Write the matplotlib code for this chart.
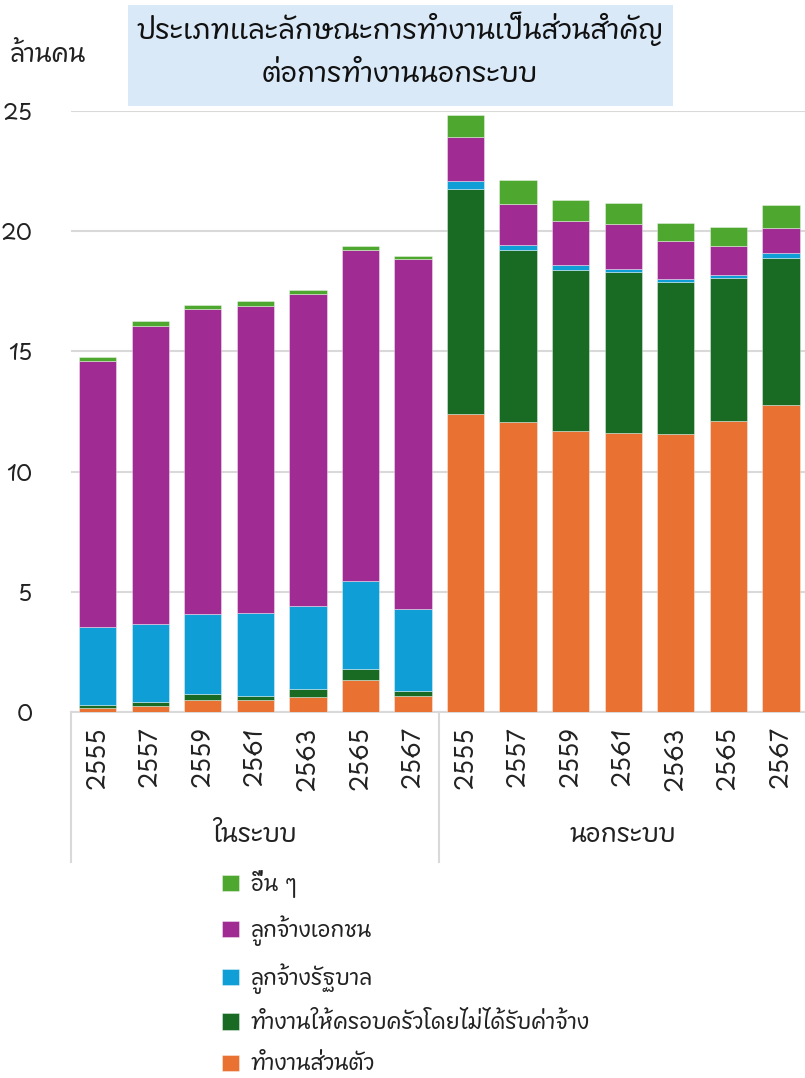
import numpy as np
import matplotlib
matplotlib.use('Agg')
import matplotlib.pyplot as plt
from matplotlib import font_manager as fm
from matplotlib.ft2font import FT2Font
from matplotlib.patches import Rectangle
import matplotlib.transforms as mtransforms

years = ['2555', '2557', '2559', '2561', '2563', '2565', '2567']
groups = ['ในระบบ', 'นอกระบบ']

# formal (ในระบบ), million persons
formal_own = [0.20, 0.28, 0.50, 0.50, 0.65, 1.33, 0.69]
formal_family = [0.12, 0.16, 0.25, 0.19, 0.32, 0.46, 0.19]
formal_gov = [3.22, 3.22, 3.34, 3.44, 3.44, 3.67, 3.40]
formal_private = [11.08, 12.41, 12.66, 12.77, 12.96, 13.76, 14.56]
formal_other = [0.16, 0.20, 0.18, 0.19, 0.18, 0.16, 0.11]

# informal (นอกระบบ)
informal_own = [12.40, 12.05, 11.68, 11.61, 11.57, 12.11, 12.77]
informal_family = [9.36, 7.16, 6.71, 6.70, 6.32, 5.94, 6.12]
informal_gov = [0.30, 0.21, 0.20, 0.11, 0.12, 0.12, 0.20]
informal_private = [1.86, 1.71, 1.81, 1.88, 1.56, 1.22, 1.05]
informal_other = [0.89, 0.98, 0.90, 0.88, 0.78, 0.79, 0.94]

series_names = ['ทำงานส่วนตัว', 'ทำงานให้ครอบครัวโดยไม่ได้รับค่าจ้าง',
                'ลูกจ้างรัฐบาล', 'ลูกจ้างเอกชน', 'อื่น ๆ']
colors = ['#E97132', '#196B24', '#0F9ED5', '#A02B93', '#4EA72E']


def find_thai_font():
    best = None
    for f in fm.fontManager.ttflist:
        try:
            cmap = FT2Font(f.fname).get_charmap()
        except Exception:
            continue
        if 0x0E01 in cmap and 0x0E33 in cmap:
            if best is None or 'Thai' in f.name:
                best = f.name
    return best


thai = find_thai_font()
plt.rcParams['font.family'] = ([thai] if thai else []) + ['DejaVu Sans']

series = [formal_own + informal_own,
          formal_family + informal_family,
          formal_gov + informal_gov,
          formal_private + informal_private,
          formal_other + informal_other]

fig = plt.figure(figsize=(8.05, 10.78), dpi=100)
ax = fig.add_axes([0.0887, 0.3391, 0.914, 0.5582])

x = np.arange(len(years) * 2)
bottom = np.zeros(len(x))
handles = []
for name, vals, c in zip(series_names, series, colors):
    b = ax.bar(x, vals, bottom=bottom, width=0.71, color=c,
               edgecolor=(1, 1, 1, 0.45), linewidth=0.6, label=name, zorder=3)
    handles.append(b)
    bottom += np.array(vals)

ax.set_xlim(-0.5, 13.5)
ax.set_ylim(0, 25)
ax.set_yticks([0, 5, 10, 15, 20, 25])
ax.yaxis.grid(True, color='#d9d9d9', linewidth=1.5, zorder=0)
for s in ['top', 'right', 'left']:
    ax.spines[s].set_visible(False)
ax.spines['bottom'].set_color('#d9d9d9')
ax.spines['bottom'].set_linewidth(1.5)
ax.tick_params(axis='y', length=0, labelsize=16, pad=28, colors='#222222')
ax.set_xticks(x)
ax.set_xticklabels(years * 2, rotation=90, fontsize=17, color='#222222')
ax.tick_params(axis='x', length=0, pad=10)

# two-level category axis
trans = mtransforms.blended_transform_factory(ax.transData, ax.transAxes)
for xv in [-0.5, 6.5]:
    ax.plot([xv, xv], [0, -0.2486], transform=trans, color='#d9d9d9',
            linewidth=1.5, clip_on=False)
for i, g in enumerate(groups):
    ax.text(3 + 7 * i, -0.2037, g, transform=trans, ha='center', va='center',
            fontsize=18, color='#222222')

# title box
fig.patches.append(Rectangle((128 / 805, 1 - 106 / 1078), 545 / 805, 101 / 1078,
                             transform=fig.transFigure, facecolor='#dae9f7',
                             edgecolor='none', zorder=0))
fig.text(400 / 805, 1 - 30 / 1078, 'ประเภทและลักษณะการทำงานเป็นส่วนสำคัญ',
         ha='center', va='center', fontsize=20, fontweight='bold', color='#111111')
fig.text(400 / 805, 1 - 75 / 1078, 'ต่อการทำงานนอกระบบ',
         ha='center', va='center', fontsize=20, fontweight='bold', color='#111111')
fig.text(10 / 805, 1 - 55 / 1078, 'ล้านคน', ha='left', va='center',
         fontsize=18, color='#222222')

fig.legend(handles[::-1], series_names[::-1], loc='upper left',
           bbox_to_anchor=(213 / 805, 1 - 861 / 1078), borderaxespad=0,
           frameon=False, fontsize=15.6,
           handlelength=0.8, handleheight=0.8, handletextpad=0.55,
           labelspacing=0.8, labelcolor='#222222')

fig.savefig('out.png', dpi=100)
